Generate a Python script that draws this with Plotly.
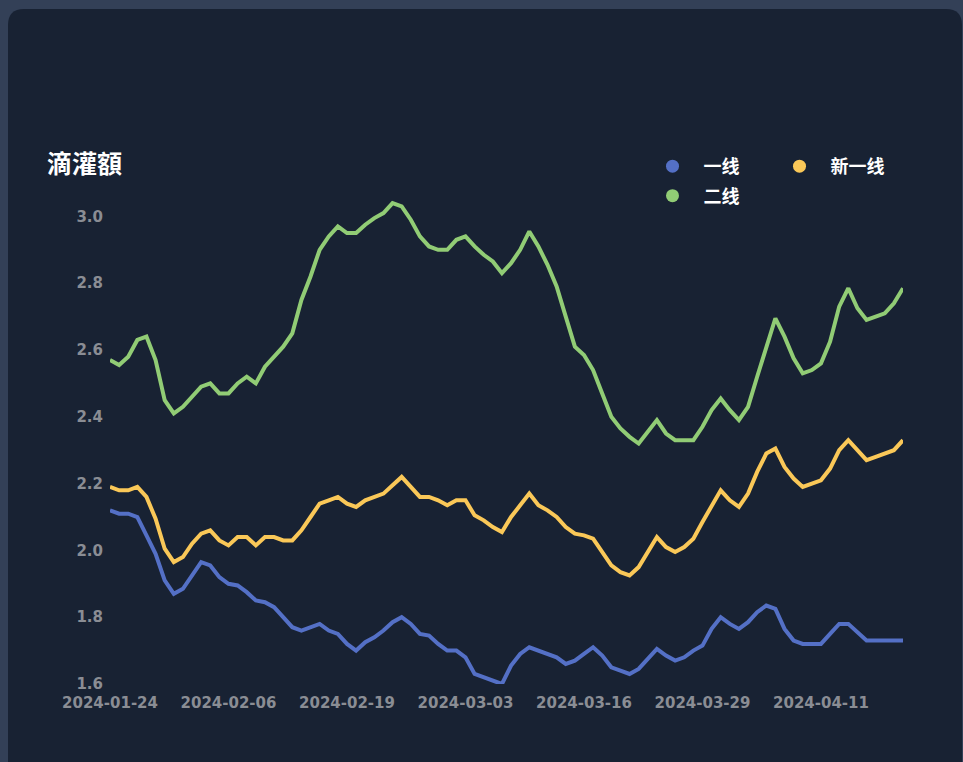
import pandas as pd
import plotly.graph_objects as go

# ---------------- data ----------------
start_date = "2024-01-24"
tier1 = [2.12, 2.11, 2.11, 2.10, 2.045, 1.99, 1.91, 1.87, 1.885, 1.925,
         1.965, 1.955, 1.92, 1.90, 1.895, 1.875, 1.85, 1.845, 1.83, 1.80,
         1.77, 1.76, 1.77, 1.78, 1.76, 1.75, 1.72, 1.70, 1.725, 1.74,
         1.76, 1.785, 1.80, 1.78, 1.75, 1.745, 1.72, 1.70, 1.70, 1.68,
         1.63, 1.62, 1.61, 1.60, 1.655, 1.69, 1.71, 1.70, 1.69, 1.68,
         1.66, 1.67, 1.69, 1.71, 1.685, 1.65, 1.64, 1.63, 1.645, 1.675,
         1.705, 1.685, 1.67, 1.68, 1.70, 1.715, 1.765, 1.80, 1.78, 1.765,
         1.785, 1.815, 1.835, 1.825, 1.765, 1.73, 1.72, 1.72, 1.72, 1.75,
         1.78, 1.78, 1.755, 1.73, 1.73, 1.73, 1.73, 1.73]
tier2 = [2.57, 2.555, 2.58, 2.63, 2.64, 2.57, 2.45, 2.41, 2.43, 2.46,
         2.49, 2.50, 2.47, 2.47, 2.50, 2.52, 2.50, 2.55, 2.58, 2.61,
         2.65, 2.75, 2.82, 2.90, 2.94, 2.97, 2.95, 2.95, 2.975, 2.995,
         3.01, 3.04, 3.03, 2.99, 2.94, 2.91, 2.90, 2.90, 2.93, 2.94,
         2.91, 2.885, 2.865, 2.83, 2.86, 2.90, 2.955, 2.91, 2.855, 2.79,
         2.70, 2.61, 2.585, 2.54, 2.47, 2.40, 2.365, 2.34, 2.32, 2.355,
         2.39, 2.35, 2.33, 2.33, 2.33, 2.37, 2.42, 2.455, 2.42, 2.39,
         2.43, 2.52, 2.61, 2.695, 2.64, 2.575, 2.53, 2.54, 2.56, 2.625,
         2.73, 2.785, 2.725, 2.69, 2.70, 2.71, 2.74, 2.785]
new_tier1 = [2.19, 2.18, 2.18, 2.19, 2.16, 2.095, 2.005, 1.965, 1.98, 2.02,
             2.05, 2.06, 2.03, 2.015, 2.04, 2.04, 2.015, 2.04, 2.04, 2.03,
             2.03, 2.06, 2.10, 2.14, 2.15, 2.16, 2.14, 2.13, 2.15, 2.16,
             2.17, 2.195, 2.22, 2.19, 2.16, 2.16, 2.15, 2.135, 2.15, 2.15,
             2.105, 2.09, 2.07, 2.055, 2.10, 2.135, 2.17, 2.135, 2.12, 2.10,
             2.07, 2.05, 2.045, 2.035, 1.995, 1.955, 1.935, 1.925, 1.95, 1.995,
             2.04, 2.01, 1.995, 2.01, 2.035, 2.085, 2.13, 2.18, 2.15, 2.13,
             2.17, 2.235, 2.29, 2.305, 2.25, 2.215, 2.19, 2.20, 2.21, 2.245,
             2.30, 2.33, 2.30, 2.27, 2.28, 2.29, 2.30, 2.33]
dates = pd.date_range(start_date, periods=len(tier1), freq="D")

x_tick_labels = ["2024-01-24", "2024-02-06", "2024-02-19", "2024-03-03",
                 "2024-03-16", "2024-03-29", "2024-04-11"]
y_tick_values = [1.6, 1.8, 2.0, 2.2, 2.4, 2.6, 2.8, 3.0]
y_tick_labels = ["1.6", "1.8", "2.0", "2.2", "2.4", "2.6", "2.8", "3.0"]

series_names = ["一线", "新一线", "二线"]
series_values = [tier1, new_tier1, tier2]
title_text = "滴灌額"

# ---------------- style ----------------
W, H = 963, 762
ML, MR, MT, MB = 110, 60, 183, 78
PW, PH = W - ML - MR, H - MT - MB
colors = ["#5470c6", "#fac858", "#91cc75"]
outer_bg = "#334057"
card_bg = "#182233"
tick_color = "#8a8d94"


def px(xp):
    return (xp - ML) / PW


def py(yp):
    return (H - MB - yp) / PH


fig = go.Figure()
for i, (name, vals) in enumerate(zip(series_names, series_values)):
    fig.add_trace(go.Scatter(
        x=dates, y=vals, mode="lines", name=name,
        line=dict(color=colors[i], width=4),
        showlegend=False, legendgroup=name,
    ))
# legend entries (circle symbols)
for i, name in enumerate(series_names):
    fig.add_trace(go.Scatter(
        x=[None], y=[None], mode="markers", name=name,
        marker=dict(color=colors[i], size=13),
        legendgroup=name, legend="legend" if i < 2 else "legend2",
    ))

# rounded card
l, r, t, b = px(8), px(962), py(9), py(780)
rx, ry = 16 / PW, 16 / PH
path = (f"M {l},{b} L {l},{t - ry} Q {l},{t} {l + rx},{t} "
        f"L {r - rx},{t} Q {r},{t} {r},{t - ry} L {r},{b} Z")
fig.add_shape(type="path", path=path, xref="paper", yref="paper",
              fillcolor=card_bg, line=dict(width=0), layer="below")

fig.add_annotation(text=f"<b>{title_text}</b>", xref="paper", yref="paper",
                   x=px(45), y=py(162), xanchor="left", yanchor="middle",
                   showarrow=False,
                   font=dict(size=25, color="#ffffff", family="Noto Sans CJK SC"))

legend_font = dict(size=18, color="#ffffff", family="Noto Sans CJK SC", weight="bold")
fig.update_layout(
    width=W, height=H,
    margin=dict(l=ML, r=MR, t=MT, b=MB),
    paper_bgcolor=outer_bg,
    plot_bgcolor="rgba(0,0,0,0)",
    legend=dict(orientation="h", x=px(641.5), y=py(166.5), xanchor="left", yanchor="middle",
                font=legend_font, itemwidth=52, entrywidth=60,
                bgcolor="rgba(0,0,0,0)"),
    legend2=dict(orientation="h", x=px(641.5), y=py(196), xanchor="left", yanchor="middle",
                 font=legend_font, itemwidth=52,
                 bgcolor="rgba(0,0,0,0)"),
    xaxis=dict(
        type="date",
        range=[dates[0], dates[-1]],
        tickvals=pd.to_datetime(x_tick_labels),
        ticktext=x_tick_labels,
        showgrid=False, zeroline=False, showline=False,
        ticks="", ticklabelstandoff=8,
        tickfont=dict(size=15, color=tick_color, family="DejaVu Sans", weight="bold"),
    ),
    yaxis=dict(
        range=[1.6, 3.1],
        tickvals=y_tick_values, ticktext=y_tick_labels,
        showgrid=False, zeroline=False, showline=False,
        ticks="", ticklabelstandoff=6,
        tickfont=dict(size=15, color=tick_color, family="DejaVu Sans", weight="bold"),
    ),
    showlegend=True,
)

post = ("document.body.style.margin='0';"
        "document.body.style.background='%s';"
        "document.documentElement.style.background='%s';" % (outer_bg, outer_bg))
fig.write_html("out.html", post_script=post, config={"displayModeBar": False})
